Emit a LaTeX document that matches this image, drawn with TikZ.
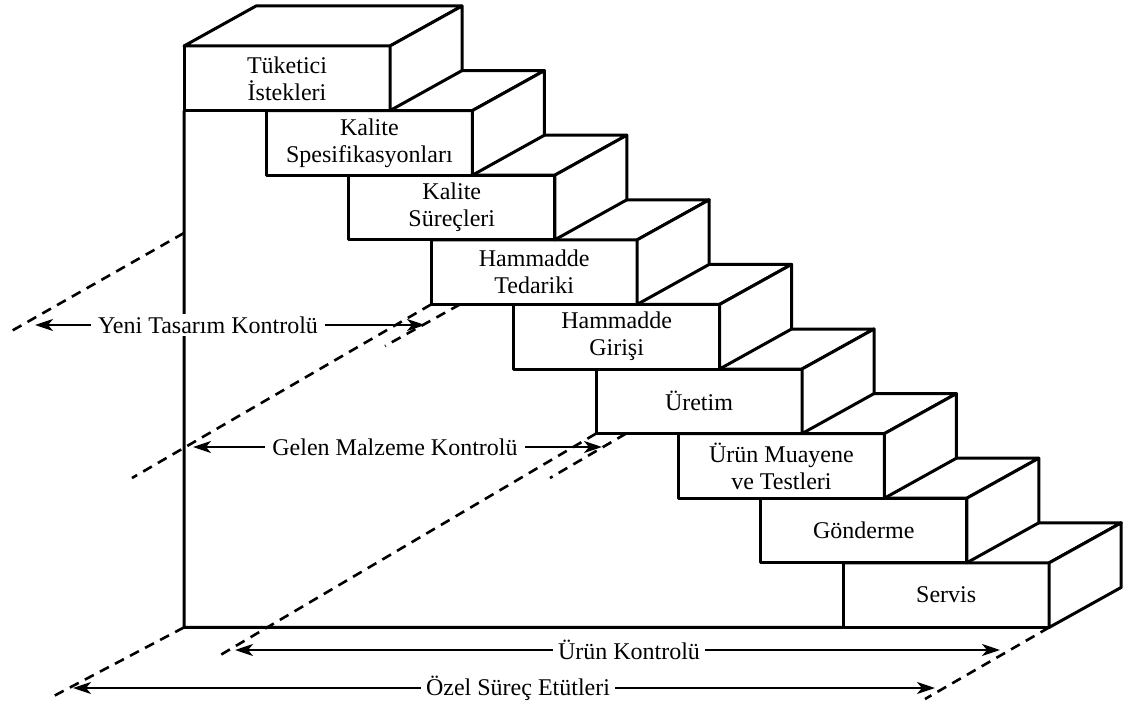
\documentclass[tikz,border=0pt]{standalone}
\usepackage{fontspec}
\setmainfont{Liberation Serif}
\usetikzlibrary{arrows.meta}
\newcommand\stepfaces[1]{%
  \path[face] (#1.north west) -- ++(72,-40) -- ++(206,0) -- (#1.north east) -- cycle;
  \path[face] (#1.north east) -- ++(72,-40) -- ++(0,64.6) -- (#1.south east) -- cycle;}
\begin{document}
\begin{tikzpicture}[x=1pt,y=-1pt,line join=round,
  stepbox/.style={draw,fill=white,line width=3pt,minimum width=206pt,minimum height=64.6pt,
    inner sep=0pt,outer sep=0pt,align=center,font=\fontsize{24}{27}\selectfont},
  face/.style={draw,fill=white,line width=3pt},
  wall/.style={line width=3pt},
  marker/.style={dash pattern=on 10pt off 7pt,line width=2.6pt},
  ctl/.style={line width=2.6pt,-{Stealth[length=18pt,width=12pt,inset=5pt]}},
  ctltext/.style={fill=white,inner xsep=7pt,inner ysep=3pt,font=\fontsize{24}{27}\selectfont}]
\useasboundingbox (0,0) rectangle (1135,706);
\fill[white] (0,0) rectangle (1135,706);

% steps, drawn from the lowest to the highest
\node[stepbox] (s9) at (946.2,595.1) {Servis};
\stepfaces{s9}
\node[stepbox] (s8) at (863.8,530.5) {Gönderme};
\stepfaces{s8}
\node[stepbox] (s7) at (781.4,465.9) {Ürün Muayene\\ve Testleri};
\stepfaces{s7}
\node[stepbox] (s6) at (699,401.3) {Üretim};
\stepfaces{s6}
\node[stepbox] (s5) at (616.6,336.7) {Hammadde\\Girişi};
\stepfaces{s5}
\node[stepbox] (s4) at (534.2,272.1) {Hammadde\\Tedariki};
\stepfaces{s4}
\node[stepbox] (s3) at (451.8,207.5) {Kalite\\Süreçleri};
\stepfaces{s3}
\node[stepbox] (s2) at (369.4,142.9) {Kalite\\Spesifikasyonları};
\stepfaces{s2}
\node[stepbox] (s1) at (287,78.3) {Tüketici\\İstekleri};
\stepfaces{s1}

% wall and base
\coordinate (wallbot) at (184,627.4);
\draw[wall] (s1.south west) -- (wallbot) -- (s9.south west);

% dashed markers
\coordinate (wa) at (184,233);
\coordinate (wa2) at (8,333);
\coordinate (wb2) at (132,478);
\coordinate (wc1) at (460,304.4);
\coordinate (wc2) at (385,346);
\coordinate (wd2) at (217,657);
\coordinate (we1) at (626,433.6);
\coordinate (we2) at (550,478);
\coordinate (wf2) at (50,698);
\coordinate (wg2) at (925,699);
\draw[marker] (wa) -- (wa2);
\draw[marker] (s4.south west) -- (wb2);
\draw[marker] (wc1) -- (wc2);
\draw[marker] (s6.south west) -- (wd2);
\draw[marker] (we1) -- (we2);
\draw[marker] (wallbot) -- (wf2);
\draw[marker] (s9.south east) -- (wg2);

% control ranges
\coordinate (yl) at (35,325);
\coordinate (yr) at (425,325);
\coordinate (gl) at (193,447);
\coordinate (gr) at (602,447);
\coordinate (ul) at (235,650);
\coordinate (ur) at (1000,650);
\coordinate (ol) at (73,688);
\coordinate (or) at (935,688);

\node[ctltext] (yeni) at (208,325) {Yeni Tasarım Kontrolü};
\node[ctltext] (gelen) at (395,447) {Gelen Malzeme Kontrolü};
\node[ctltext,inner xsep=5pt] (urun) at (629,650) {Ürün Kontrolü};
\node[ctltext,inner xsep=5pt] (ozel) at (518,688) {Özel Süreç Etütleri};

\draw[ctl] (yeni.west) -- (yl);
\draw[ctl] (yeni.east) -- (yr);
\draw[ctl] (gelen.west) -- (gl);
\draw[ctl] (gelen.east) -- (gr);
\draw[ctl] (urun.west) -- (ul);
\draw[ctl] (urun.east) -- (ur);
\draw[ctl] (ozel.west) -- (ol);
\draw[ctl] (ozel.east) -- (or);
\end{tikzpicture}
\end{document}
